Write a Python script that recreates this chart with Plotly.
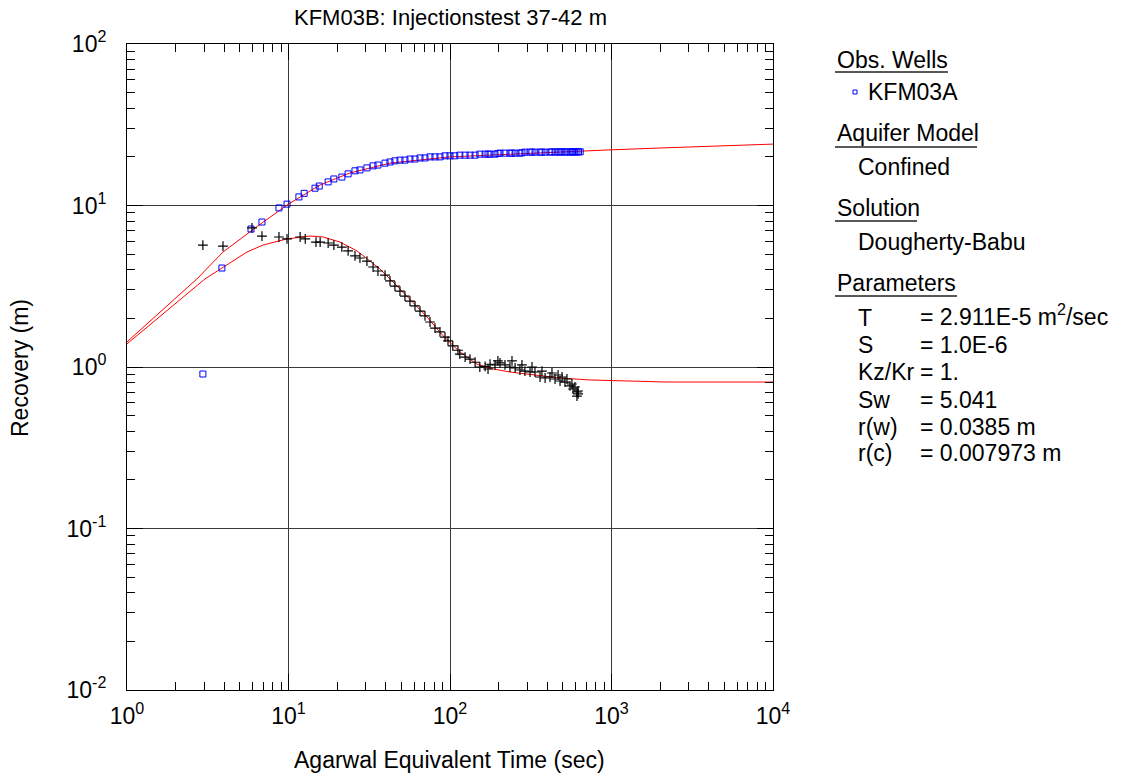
import plotly.graph_objects as go

# observed recovery (blue squares)
recov_t = [2.95, 3.87, 5.86, 6.85, 8.73, 9.79, 11.6, 12.5, 14.6, 15.5, 17.6, 19.1,
           21.4, 23.4, 25.8, 27.7, 30.6, 33.4, 35.8, 39.6, 42.5, 45.6, 49.0, 52.6,
           56.5, 60.7, 65.2, 70.0, 75.2, 80.7, 86.7, 93.1, 100, 107, 115, 124, 133,
           143, 153, 165, 172, 177, 190, 198, 204, 219, 235, 242, 253, 271, 279, 291,
           313, 322, 336, 361, 371, 388, 416, 428, 447, 467, 480, 494, 515, 530, 553,
           569, 578, 594, 611, 625, 640]
recov_v = [0.905, 4.10, 7.15, 7.90, 9.66, 10.2, 11.3, 11.9, 12.8, 13.2, 14.0, 14.6,
           15.0, 15.7, 16.4, 16.6, 17.1, 17.6, 17.8, 18.3, 18.6, 18.9, 19.1, 19.1,
           19.4, 19.4, 19.7, 19.7, 20.0, 20.0, 20.0, 20.3, 20.3, 20.3, 20.5, 20.5, 20.5,
           20.5, 20.8, 20.8, 20.8, 20.8, 20.8, 21.0, 21.1, 21.1, 21.1, 21.1, 21.1, 21.1,
           21.2, 21.4, 21.4, 21.4, 21.4, 21.4, 21.4, 21.4, 21.4, 21.5, 21.4, 21.5, 21.4,
           21.5, 21.4, 21.5, 21.4, 21.5, 21.5, 21.4, 21.5, 21.5, 21.5]

# recovery derivative (black crosses)
deriv_t = [2.95, 3.93, 5.94, 6.85, 8.73, 9.79, 11.8, 12.7, 14.8, 15.7, 17.6, 19.1,
           21.4, 23.4, 25.8, 27.7, 30.6, 33.4, 35.8, 39.6, 42.5, 45.6, 49.0, 52.6,
           56.5, 60.7, 65.2, 70.0, 75.2, 80.7, 86.7, 93.1, 97.2, 104, 112, 115, 124,
           133, 143, 153, 165, 172, 177, 190, 198, 204, 219, 235, 242, 253, 271, 279,
           291, 313, 322, 336, 361, 371, 388, 416, 428, 447, 467, 480, 494, 515, 530,
           553, 569, 578, 594, 611, 611, 621, 621]
deriv_v = [5.69, 5.61, 7.26, 6.47, 6.38, 6.21, 6.38, 6.21, 5.94, 5.94, 5.86, 5.69,
           5.53, 5.23, 4.87, 4.73, 4.53, 4.16, 3.93, 3.71, 3.41, 3.17, 2.95, 2.75,
           2.56, 2.39, 2.22, 2.07, 1.90, 1.74, 1.65, 1.53, 1.45, 1.35, 1.27, 1.20, 1.15,
           1.12, 1.07, 1.00, 1.01, 0.972, 1.04, 1.03, 1.09, 1.06, 1.03, 1.00, 1.09, 0.986,
           0.958, 1.03, 0.944, 0.931, 1.00, 0.931, 0.867, 0.944, 0.855, 0.867, 0.918,
           0.843, 0.892, 0.819, 0.867, 0.807, 0.843, 0.763, 0.785, 0.731, 0.752, 0.700,
           0.661, 0.710, 0.681]

# Dougherty-Babu fitted curves
fit_recov_t = [1, 2.71, 3.93, 6.2, 9.79, 15.7, 24.0, 42.5, 100, 235, 480, 979, 1995,
               5190, 10000]
fit_recov_v = [1.43, 3.51, 5.15, 7.25, 10.07, 13.4, 15.9, 18.3, 20.0, 20.8, 21.4, 22.1,
               22.7, 23.4, 24.0]
fit_deriv_t = [1, 3.04, 5.53, 6.95, 9.79, 13.6, 16.4, 20.8, 26.6, 32.0, 36.9, 44.4,
               56.5, 72.1, 90.5, 115, 147, 185, 235, 300, 377, 480, 736, 1130, 2207,
               10000]
fit_deriv_v = [1.39, 3.51, 5.15, 5.69, 6.21, 6.47, 6.38, 5.94, 5.23, 4.53, 4.04, 3.36,
               2.64, 2.04, 1.56, 1.24, 1.04, 0.972, 0.931, 0.905, 0.880, 0.855, 0.831,
               0.819, 0.807, 0.807]

x_ticks = [1, 10, 100, 1000, 10000]
x_labels = ["10<sup>0</sup>", "10<sup>1</sup>", "10<sup>2</sup>", "10<sup>3</sup>", "10<sup>4</sup>"]
y_ticks = [0.01, 0.1, 1, 10, 100]
y_labels = ["10<sup>-2</sup>", "10<sup>-1</sup>", "10<sup>0</sup>", "10<sup>1</sup>", "10<sup>2</sup>"]

FONT = "Arial, Liberation Sans, sans-serif"
W, H = 1122, 773
L, R, T, B = 127, 773, 44, 690  # plot frame in pixels


def fx(px):
    return (px - L) / (R - L)


def fy(py):
    return (B - py) / (B - T)


fig = go.Figure()
fig.add_trace(go.Scatter(x=fit_recov_t, y=fit_recov_v, mode="lines",
                         line=dict(color="#ff0000", width=1)))
fig.add_trace(go.Scatter(x=fit_deriv_t, y=fit_deriv_v, mode="lines",
                         line=dict(color="#ff0000", width=1)))
fig.add_trace(go.Scatter(x=recov_t, y=recov_v, mode="markers",
                         marker=dict(symbol="square-open", size=6, color="#0000ff",
                                     line=dict(width=1))))
fig.add_trace(go.Scatter(x=deriv_t, y=deriv_v, mode="markers",
                         marker=dict(symbol="cross-thin", size=7, color="black",
                                     line=dict(width=1.2, color="black"))))

minor_x = [k * 10 ** d for d in range(0, 4) for k in range(2, 10)]
minor_y = [k * 10 ** d for d in range(-2, 2) for k in range(2, 10)]

axis_common = dict(
    showline=True, linecolor="black", linewidth=1, mirror="ticks",
    ticks="inside", ticklen=16, tickcolor="black", tickwidth=1,
    showgrid=True, gridcolor="#3a3a3a", gridwidth=1,
    tickfont=dict(family=FONT, size=23, color="black"),
    tickmode="array", zeroline=False, automargin=False,
)

fig.update_xaxes(type="log", range=[0, 4], tickvals=x_ticks, ticktext=x_labels,
                 minor=dict(tickmode="array", tickvals=minor_x, ticks="inside", ticklen=8,
                            tickcolor="black", tickwidth=1, showgrid=False),
                 ticklabelstandoff=5, **axis_common)
fig.update_yaxes(type="log", range=[-2, 2], tickvals=y_ticks, ticktext=y_labels,
                 minor=dict(tickmode="array", tickvals=minor_y, ticks="inside", ticklen=8,
                            tickcolor="black", tickwidth=1, showgrid=False),
                 ticklabelstandoff=15, **axis_common)

ann = [
    dict(text="KFM03B: Injectionstest 37-42 m", x=0.5, y=fy(18), xanchor="center",
         font=dict(size=22)),
    dict(text="Recovery (m)", x=fx(20), y=fy(368), xanchor="center", textangle=-90,
         font=dict(size=23)),
    dict(text="Agarwal Equivalent Time (sec)", x=fx(449), y=fy(760), xanchor="center",
         font=dict(size=23)),
    dict(text="Obs. Wells", x=fx(835), y=fy(60)),
    dict(text="KFM03A", x=fx(866), y=fy(92)),
    dict(text="Aquifer Model", x=fx(835), y=fy(133)),
    dict(text="Confined", x=fx(856), y=fy(167)),
    dict(text="Solution", x=fx(835), y=fy(208)),
    dict(text="Dougherty-Babu", x=fx(856), y=fy(242)),
    dict(text="Parameters", x=fx(835), y=fy(283)),
]
params = [("T", "= 2.911E-5 m<sup>2</sup>/sec"), ("S", "= 1.0E-6"), ("Kz/Kr", "= 1."),
          ("Sw", "= 5.041"), ("r(w)", "= 0.0385 m"), ("r(c)", "= 0.007973 m")]
rows_y = [318, 345, 372, 400, 427, 453]
for (name, val), ry in zip(params, rows_y):
    ann.append(dict(text=name, x=fx(856), y=fy(ry)))
    ann.append(dict(text=val, x=fx(918), y=fy(ry - (3 if "sup" in val else 0))))

for a in ann:
    a.setdefault("xanchor", "left")
    a.update(xref="paper", yref="paper", yanchor="middle", showarrow=False)
    a.setdefault("font", dict(size=23))
    a["font"] = dict(family=FONT, color="black", **a["font"])
    fig.add_annotation(**a)

shapes = []
for x0, x1, y in [(835, 948, 72), (835, 977, 147), (835, 917, 221), (835, 957, 296)]:
    shapes.append(dict(type="line", xref="paper", yref="paper", x0=fx(x0), x1=fx(x1),
                       y0=fy(y), y1=fy(y), line=dict(color="#222222", width=1.5)))
shapes.append(dict(type="rect", xref="paper", yref="paper", x0=fx(853), x1=fx(857),
                   y0=fy(94), y1=fy(90), line=dict(color="#0000ff", width=1)))
fig.update_layout(shapes=shapes)

fig.update_layout(
    width=W, height=H,
    margin=dict(l=L, r=W - R, t=T, b=H - B, autoexpand=False),
    paper_bgcolor="white", plot_bgcolor="white",
    showlegend=False,
    font=dict(family=FONT, color="black"),
)

# drop the default page margin so the figure fills the window exactly
fig.write_html("out.html", config={"displayModeBar": False},
               post_script="document.body.style.margin='0px';")
